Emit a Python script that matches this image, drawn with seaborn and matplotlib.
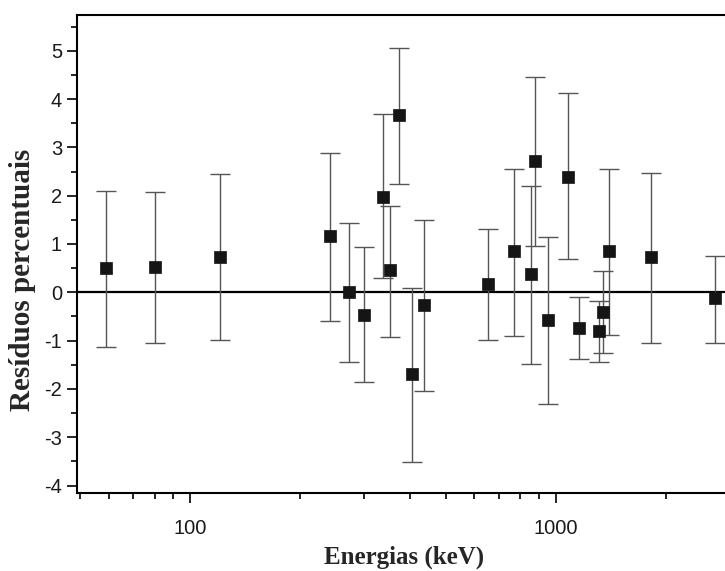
import numpy as np
import pandas as pd
import seaborn as sns
import matplotlib.pyplot as plt
from matplotlib import ticker

# energias das linhas (keV) e residuos percentuais
energias = [59, 80, 121, 242, 272, 299, 338, 352, 373, 406, 437,
            654, 770, 855, 879, 952, 1084, 1159, 1316, 1351, 1402, 1824, 2735]
residuos = [0.50, 0.53, 0.74, 1.17, 0.00, -0.46, 1.98, 0.46, 3.67, -1.69, -0.26,
            0.17, 0.86, 0.38, 2.72, -0.57, 2.39, -0.73, -0.80, -0.41, 0.86, 0.74, -0.12]
# extremos das barras de erro
erro_sup = [2.10, 2.08, 2.44, 2.89, 1.43, 0.93, 3.69, 1.79, 5.06, 0.08, 1.50,
            1.30, 2.55, 2.20, 4.46, 1.14, 4.13, -0.09, -0.17, 0.44, 2.55, 2.46, 0.75]
erro_inf = [-1.13, -1.06, -0.99, -0.59, -1.44, -1.86, 0.30, -0.93, 2.24, -3.51, -2.04,
            -0.99, -0.90, -1.48, 0.96, -2.31, 0.68, -1.38, -1.45, -1.26, -0.88, -1.04, -1.04]

df = pd.DataFrame({"energia": energias, "residuo": residuos,
                   "sup": erro_sup, "inf": erro_inf})


def set_config():
    sns.set_theme(style="ticks")
    plt.rcParams["font.family"] = ["Liberation Sans", "DejaVu Sans"]
    plt.rcParams["axes.unicode_minus"] = False
    plt.rcParams["axes.linewidth"] = 1.5


def plot_residuos(df):
    fig = plt.figure(figsize=(7.25, 5.71), dpi=100)
    ax = fig.add_axes([0.1058, 0.1366, 0.9011, 0.8371])

    yerr = np.vstack([df.residuo - df.inf, df.sup - df.residuo])
    ax.errorbar(df.energia, df.residuo, yerr=yerr, fmt="none",
                ecolor="#555555", elinewidth=1.0, capsize=7, capthick=1.0, zorder=2)
    ax.axhline(0, color="black", lw=1.6, zorder=1)
    sns.scatterplot(data=df, x="energia", y="residuo", marker="s", s=80,
                    color="#151515", edgecolor="#151515", linewidth=0.5,
                    ax=ax, zorder=3)

    ax.set_xscale("log")
    ax.set_xlim(49, 3000)
    ax.set_ylim(-4.155, 5.74)

    ax.set_xticks([100, 1000], labels=["100", "1000"])
    ax.xaxis.set_minor_locator(ticker.LogLocator(base=10, subs=np.arange(2, 10)))
    ax.xaxis.set_minor_formatter(ticker.NullFormatter())
    ax.set_yticks(range(-4, 6))
    ax.yaxis.set_minor_locator(ticker.MultipleLocator(0.5))

    ax.tick_params(which="major", direction="out", length=7, width=1.2,
                   labelsize=14.5, color="black", labelcolor="#1a1a1a")
    ax.tick_params(which="minor", direction="out", length=4.5, width=1.2, color="black")
    ax.tick_params(axis="x", which="major", pad=12)
    for s in ax.spines.values():
        s.set_color("black")
        s.set_linewidth(1.5)

    ax.set_xlabel("Energias (keV)", family="Liberation Serif", weight="bold",
                  fontsize=18)
    ax.xaxis.set_label_coords(0.501, -0.11)
    ax.set_ylabel("Resíduos percentuais", family="Liberation Serif", weight="bold",
                  fontsize=21)
    ax.yaxis.set_label_coords(-0.063, 0.446)

    fig.savefig("out.png", dpi=100, facecolor="white")


def main():
    set_config()
    plot_residuos(df)


if __name__ == "__main__":
    main()
